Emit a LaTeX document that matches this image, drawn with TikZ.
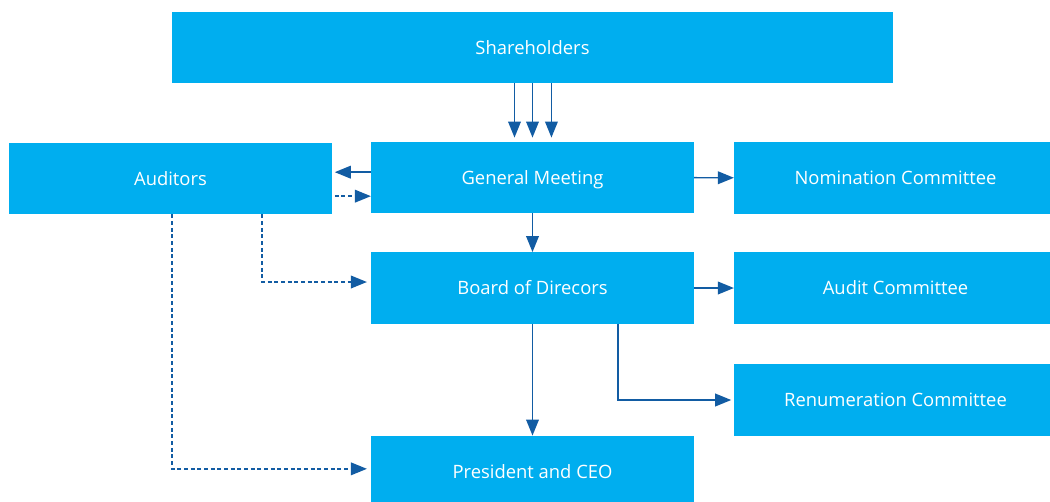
\documentclass[tikz,border=0pt]{standalone}
\usepackage{fontspec}
\setmainfont{Open Sans}
\usetikzlibrary{arrows.meta}
\definecolor{boxblue}{RGB}{0,174,239}
\definecolor{lineblue}{RGB}{18,92,163}
\begin{document}
\begin{tikzpicture}[x=0.75pt,y=-0.75pt]
\tikzstyle{box} = [fill=boxblue, text=white, inner sep=0, minimum width=242pt, minimum height=53.5pt, text height=12pt, text depth=2pt, font=\fontsize{13.8}{16}\selectfont];
\tikzstyle{arr} = [draw=lineblue, line width=1.1pt, -{Triangle[length=12pt,width=9.5pt]}];
\tikzstyle{dasharr} = [arr, dash pattern=on 3pt off 2pt];
\useasboundingbox (0,0) rectangle (1050,501);
\node[box, minimum width=541pt] (sh) at (532.5,47.5) {Shareholders};
\node[box] (aud) at (170.5,178.5) {Auditors};
\node[box] (gm) at (532.5,177.5) {General Meeting};
\node[box] (nom) at (895.5,178) {Nomination Committee};
\node[box] (bod) at (532.5,288) {Board of Direcors};
\node[box] (ac) at (895.5,288) {Audit Committee};
\node[box] (rc) at (895.5,400) {Renumeration Committee};
\node[box] (ceo) at (532.5,471.5) {President and CEO};
\coordinate (gmw) at ([yshift=4pt]gm.west);
\coordinate (gmd) at ([yshift=-14pt]gm.west);
\coordinate (a1) at ([xshift=68.6pt]aud.south);
\coordinate (a2) at ([xshift=1pt]aud.south);
\coordinate (b1) at ([xshift=64pt]bod.south);
\foreach \dx in {-13.5,0,14.2}
  \draw[arr] ([xshift=\dx pt]sh.south) -- ([xshift=\dx pt, yshift=3pt]gm.north);
\draw[arr, shorten >=2pt] (gmw) -- (gmw -| aud.east);
\draw[dasharr, shorten <=2pt] (gmd -| aud.east) -- (gmd);
\draw[arr] (gm) -- (bod);
\draw[arr] (gm) -- (nom);
\draw[arr] (bod) -- (ac);
\draw[arr] (bod) -- (ceo);
\draw[arr, shorten >=2pt] (b1) |- (rc.west);
\draw[dasharr, shorten >=3pt] (a1) |- ([yshift=4.5pt]bod.west);
\draw[dasharr, shorten >=3pt] (a2) |- ([yshift=2pt]ceo.west);
\end{tikzpicture}
\end{document}
